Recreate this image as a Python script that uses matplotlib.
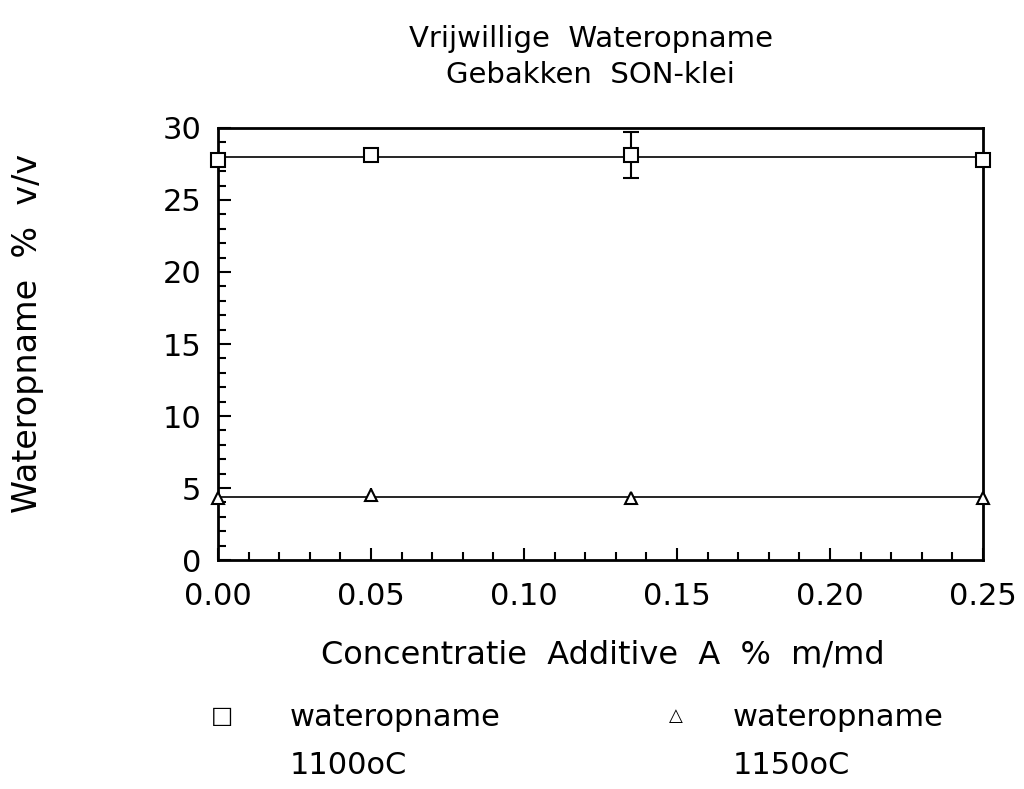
import matplotlib
matplotlib.use("Agg")
import matplotlib.pyplot as plt
import numpy as np
from matplotlib.ticker import MultipleLocator

# data
conc = [0.0, 0.05, 0.135, 0.25]
opname_1100 = [27.8, 28.1, 28.1, 27.8]
err_1100 = [0.0, 0.0, 1.6, 0.0]
opname_1150 = [4.3, 4.5, 4.3, 4.3]
err_1150 = [0.0, 0.5, 0.4, 0.0]
xticks = [0.0, 0.05, 0.10, 0.15, 0.20, 0.25]
yticks = [0, 5, 10, 15, 20, 25, 30]

plt.rcParams['font.family'] = ['DejaVu Sans']
fig = plt.figure(figsize=(10.24, 7.89), dpi=100)
ax = fig.add_axes([0.2129, 0.2902, 0.7471, 0.5476])

# horizontal fit lines (mean of each series)
for vals in (opname_1100, opname_1150):
    ax.plot([conc[0], conc[-1]], [np.mean(vals)] * 2, color='black', lw=1.2, zorder=1)

ax.errorbar(conc, opname_1100, yerr=err_1100, fmt='s', ms=10, mfc='white', mec='black',
            mew=1.5, ecolor='black', elinewidth=1.5, capsize=6, capthick=1.5, zorder=3,
            clip_on=False)
ax.errorbar(conc, opname_1150, yerr=err_1150, fmt='^', ms=9, mfc='white', mec='black',
            mew=1.5, ecolor='black', elinewidth=1.5, capsize=0, zorder=3, clip_on=False)

ax.set_xlim(0, 0.25)
ax.set_ylim(0, 30)
ax.set_xticks(xticks)
ax.set_xticklabels([f'{v:.2f}' for v in xticks])
ax.set_yticks(yticks)
ax.xaxis.set_minor_locator(MultipleLocator(0.01))
ax.yaxis.set_minor_locator(MultipleLocator(1))
ax.tick_params(which='both', direction='in', top=False, right=False, width=1.5,
               labelsize=22)
ax.tick_params(axis='x', pad=16)
ax.tick_params(axis='y', pad=12)
ax.tick_params(which='major', length=9)
ax.tick_params(which='minor', length=6)
for s in ax.spines.values():
    s.set_linewidth(2)

fig.text(0.577, 0.950, 'Vrijwillige  Wateropname', ha='center', va='center', fontsize=21)
fig.text(0.577, 0.905, 'Gebakken  SON-klei', ha='center', va='center', fontsize=21)
fig.text(0.589, 0.170, 'Concentratie  Additive  A  %  m/md', ha='center', va='center', fontsize=23)
fig.text(0.027, 0.577, 'Wateropname  %  v/v', ha='center', va='center', rotation=90, fontsize=24)

# legend laid out like the original plot
fig.text(0.217, 0.092, '\u25a1', ha='center', va='center', fontsize=17)
fig.text(0.283, 0.090, 'wateropname', ha='left', va='center', fontsize=22)
fig.text(0.283, 0.030, '1100oC', ha='left', va='center', fontsize=22)
fig.text(0.660, 0.092, '\u25b3', ha='center', va='center', fontsize=13)
fig.text(0.716, 0.090, 'wateropname', ha='left', va='center', fontsize=22)
fig.text(0.716, 0.030, '1150oC', ha='left', va='center', fontsize=22)

fig.savefig('out.png', dpi=100)
